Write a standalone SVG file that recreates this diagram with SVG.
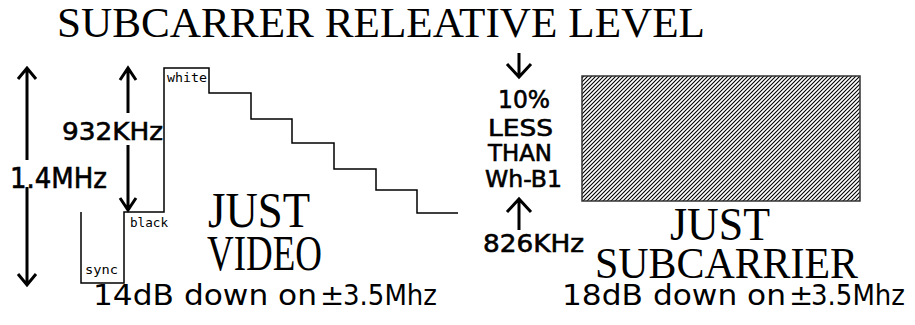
<svg xmlns="http://www.w3.org/2000/svg" width="915" height="325" viewBox="0 0 915 325">
<defs>
<style>
.serif{font-family:"Liberation Serif","Times New Roman",serif;fill:#000}
.sans{font-family:"DejaVu Sans","Liberation Sans",sans-serif;fill:#000}
.lbl{stroke:#000;stroke-width:0.6}
.mono{font-family:"DejaVu Sans Mono","Liberation Mono",monospace;fill:#000;font-size:12px}
.arr{fill:none;stroke:#000;stroke-width:3;stroke-linecap:butt;stroke-linejoin:miter}
.wave{fill:none;stroke:#000;stroke-width:1.5}
</style>
<pattern id="hatch" patternUnits="userSpaceOnUse" width="4" height="4">
<path d="M-1,1 L1,-1 M0,4 L4,0 M3,5 L5,3" stroke="#000" stroke-width="1.1"/>
</pattern>
</defs>
<rect width="915" height="325" fill="#fff"/>
<g id="title">
<text class="serif" x="57" y="37" font-size="42" textLength="648" lengthAdjust="spacingAndGlyphs">SUBCARRER RELEATIVE LEVEL</text>
</g>
<g id="waveform">
<path class="wave" d="M81,212 V283 H124 V212 H164 V68 H209 V93 H251 V119 H292 V143 H334 V169 H376 V190 H417 V213 H458"/>
<text class="mono" x="167" y="82" textLength="40" lengthAdjust="spacingAndGlyphs">white</text>
<text class="mono" x="130" y="227" textLength="38" lengthAdjust="spacingAndGlyphs">black</text>
<text class="mono" x="85" y="274" textLength="33" lengthAdjust="spacingAndGlyphs">sync</text>
</g>
<g id="label-14mhz">
<text class="sans lbl" x="10" y="188" font-size="28" textLength="97" lengthAdjust="spacingAndGlyphs">1.4MHz</text>
</g>
<g id="label-932khz">
<text class="sans lbl" x="62" y="140" font-size="24" textLength="101" lengthAdjust="spacingAndGlyphs">932KHz</text>
</g>
<g id="just-video">
<text class="serif" x="208" y="227" font-size="51" textLength="102" lengthAdjust="spacingAndGlyphs">JUST</text>
<text class="serif" x="207" y="270" font-size="50" textLength="115" lengthAdjust="spacingAndGlyphs">VIDEO</text>
</g>
<g id="less-than">
<text class="sans lbl" x="498" y="108" font-size="24" textLength="52" lengthAdjust="spacingAndGlyphs">10%</text>
<text class="sans lbl" x="488" y="136" font-size="23" textLength="65" lengthAdjust="spacingAndGlyphs">LESS</text>
<text class="sans lbl" x="488" y="161" font-size="23" textLength="64" lengthAdjust="spacingAndGlyphs">THAN</text>
<text class="sans lbl" x="485" y="187" font-size="23" textLength="77" lengthAdjust="spacingAndGlyphs">Wh-B1</text>
</g>
<g id="label-826khz">
<text class="sans lbl" x="483" y="252" font-size="24" textLength="101" lengthAdjust="spacingAndGlyphs">826KHz</text>
</g>
<g id="subcarrier-box">
<rect x="582" y="76" width="278" height="125" fill="url(#hatch)" stroke="#333" stroke-width="1.5"/>
</g>
<g id="just-subcarrier">
<text class="serif" x="670" y="240" font-size="47" textLength="100" lengthAdjust="spacingAndGlyphs">JUST</text>
<text class="serif" x="595" y="278" font-size="45" textLength="263" lengthAdjust="spacingAndGlyphs">SUBCARRIER</text>
</g>
<g id="caption-video">
<text class="sans" y="305" font-size="29"><tspan x="93" textLength="224" lengthAdjust="spacingAndGlyphs">14dB down on</tspan> <tspan x="320">±</tspan> <tspan x="343" textLength="94" lengthAdjust="spacingAndGlyphs">3.5Mhz</tspan></text>
</g>
<g id="caption-subcarrier">
<text class="sans" y="305" font-size="29"><tspan x="562" textLength="224" lengthAdjust="spacingAndGlyphs">18dB down on</tspan> <tspan x="789">±</tspan> <tspan x="811" textLength="94" lengthAdjust="spacingAndGlyphs">3.5Mhz</tspan></text>
</g>
<g id="connectors">
<path class="arr" d="M27,70 V160 M18,79 L27,68 L36,79"/>
<path class="arr" d="M27,187 V283 M18,274 L27,285 L36,274"/>
<path class="arr" d="M128,70 V113 M120,80 L128,68 L136,80"/>
<path class="arr" d="M128,145 V208 M120,198 L128,210 L136,198"/>
<path class="arr" d="M519,53 V76 M507,64 L519,77 L531,64"/>
<path class="arr" d="M519,200 V230 M507,212 L519,199 L531,212"/>
</g>
</svg>
